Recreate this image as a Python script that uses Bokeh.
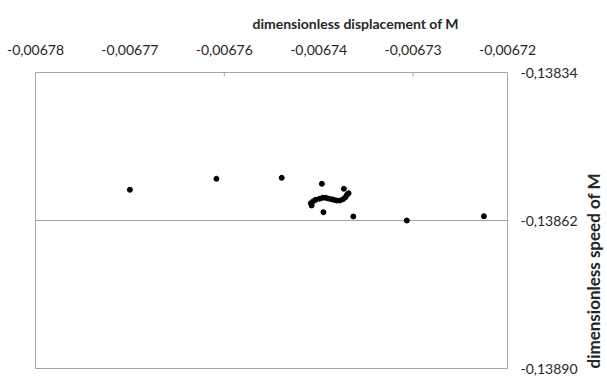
import math
from bokeh.plotting import figure
from bokeh.models import FixedTicker, LinearAxis, Range1d, Title
from bokeh.embed import file_html
from bokeh.resources import INLINE

# ---- data ----
disp = [
    -0.0067680, -0.0067570, -0.0067487, -0.0067436, -0.0067434, -0.0067396,
    -0.0067328, -0.0067230, -0.0067408,
    -0.0067449, -0.0067450, -0.0067447, -0.0067444, -0.0067439, -0.0067435,
    -0.0067431, -0.0067428, -0.0067424, -0.0067421, -0.0067417, -0.0067413,
    -0.0067409, -0.0067406, -0.0067404, -0.0067402,
]
speed = [
    -0.1385619, -0.1385411, -0.1385392, -0.1385506, -0.1386043, -0.1386124,
    -0.1386200, -0.1386119, -0.1385600,
    -0.1385916, -0.1385873, -0.1385835, -0.1385808, -0.1385790, -0.1385771,
    -0.1385771, -0.1385784, -0.1385797, -0.1385808, -0.1385822, -0.1385822,
    -0.1385797, -0.1385759, -0.1385714, -0.1385684,
]

x_ticks = [-0.006780, -0.006768, -0.006756, -0.006744, -0.006732, -0.006720]
x_tick_labels = ["-0,00678", "-0,00677", "-0,00676", "-0,00674", "-0,00673", "-0,00672"]
x_minor = [-0.006756, -0.006732]
y_ticks = [-0.13890, -0.13862, -0.13834]
y_tick_labels = ["-0,13890", "-0,13862", "-0,13834"]

x_title = "dimensionless displacement of M"
y_title = "dimensionless speed of M"

FONT = "Lato"
TXT = "#262626"
LINE = "#a6a6a6"

FL, FT, FW, FH = 35, 72, 472, 296
x0, x1 = x_ticks[0], x_ticks[-1]
y0, y1 = y_ticks[0], y_ticks[-1]


def dy(py):
    return y1 - (py - FT) / FH * (y1 - y0)


p = figure(
    width=607, height=377, frame_width=FW, frame_height=FH,
    x_range=Range1d(x0, x1), y_range=Range1d(y0, y1),
    x_axis_location=None, y_axis_location=None,
    output_backend="svg", toolbar_location=None,
    min_border_left=FL, min_border_right=100, min_border_top=FT, min_border_bottom=9,
)
p.background_fill_color = "white"
p.border_fill_color = "white"
p.outline_line_color = LINE
p.outline_line_width = 1

p.xgrid.visible = False
p.ygrid.ticker = FixedTicker(ticks=[y_ticks[1]])
p.ygrid.grid_line_color = LINE
p.ygrid.grid_line_width = 1

# labelled top axis
xa = LinearAxis(ticker=FixedTicker(ticks=x_ticks))
xa.major_label_overrides = {t: l for t, l in zip(x_ticks, x_tick_labels)}
xa.axis_line_color = None
xa.major_tick_in = 0
xa.major_tick_out = 0
xa.minor_tick_line_color = None
xa.major_label_standoff = 18
xa.major_label_text_font = FONT
xa.major_label_text_font_size = "14px"
xa.major_label_text_color = TXT
p.add_layout(xa, "above")

# top title, shifted to the right like the reference
p.add_layout(Title(text=x_title, align="left", offset=217, standoff=20,
                   text_font=FONT, text_font_style="bold", text_font_size="14px",
                   text_color=TXT), "above")

# right tick-label axis
ya = LinearAxis(ticker=FixedTicker(ticks=y_ticks))
ya.major_label_overrides = {t: l for t, l in zip(y_ticks, y_tick_labels)}
ya.axis_line_color = None
ya.major_tick_in = 0
ya.major_tick_out = 0
ya.minor_tick_line_color = None
ya.major_label_standoff = 13
ya.major_label_text_font = FONT
ya.major_label_text_font_size = "14px"
ya.major_label_text_color = TXT
p.add_layout(ya, "right")

# right title axis
yt = LinearAxis(ticker=FixedTicker(ticks=[]))
yt.axis_line_color = None
yt.major_tick_line_color = None
yt.minor_tick_line_color = None
yt.major_label_text_font_size = "0px"
yt.axis_label = y_title
yt.axis_label_orientation = math.pi / 2
yt.axis_label_standoff = 13
yt.axis_label_text_font = FONT
yt.axis_label_text_font_style = "bold"
yt.axis_label_text_font_size = "17px"
yt.axis_label_text_color = TXT
if "axis_label_align" in LinearAxis.properties():
    yt.axis_label_align = "start"
p.add_layout(yt, "right")

# short inner tick marks on the top frame edge
p.segment(x0=x_minor, x1=x_minor, y0=[y1] * len(x_minor), y1=[dy(FT + 4)] * len(x_minor),
          line_color=LINE, line_width=1)

p.scatter(disp, speed, size=5, color="black")

open("out.html", "w").write(file_html(p, INLINE))
